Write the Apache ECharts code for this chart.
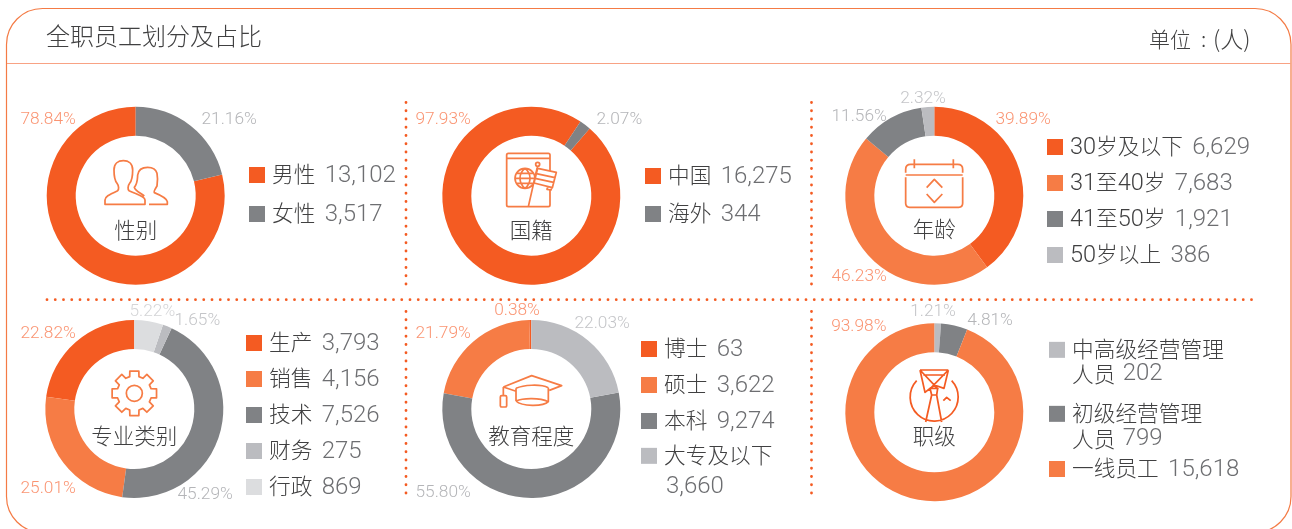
<!DOCTYPE html>
<html>
<head>
<meta charset="utf-8">
<style>
  html, body { margin: 0; padding: 0; background: #fff; }
  #main { width: 1292px; height: 529px; }
</style>
<script src="https://cdn.jsdelivr.net/npm/echarts@6/dist/echarts.min.js"></script>
</head>
<body>
<div id="main"></div>
<script>
const genderNames = ["男性", "女性"];
const genderValues = [13102, 3517];
const genderPercents = ["78.84%", "21.16%"];

const nationNames = ["中国", "海外"];
const nationValues = [16275, 344];
const nationPercents = ["97.93%", "2.07%"];

const ageNames = ["30岁及以下", "31至40岁", "41至50岁", "50岁以上"];
const ageValues = [6629, 7683, 1921, 386];
const agePercents = ["39.89%", "46.23%", "11.56%", "2.32%"];

const jobNames = ["生产", "销售", "技术", "财务", "行政"];
const jobValues = [3793, 4156, 7526, 275, 869];
const jobPercents = ["22.82%", "25.01%", "45.29%", "1.65%", "5.22%"];

const eduNames = ["博士", "硕士", "本科", "大专及以下"];
const eduValues = [63, 3622, 9274, 3660];
const eduPercents = ["0.38%", "21.79%", "55.80%", "22.03%"];

const rankNames = ["中高级经营管理人员", "初级经营管理人员", "一线员工"];
const rankValues = [202, 799, 15618];
const rankPercents = ["1.21%", "4.81%", "93.98%"];

const DEEP = "#F45B22";
const ORANGE = "#F67C45";
const GRAY = "#808285";
const SILVER = "#BBBCC0";
const PALE = "#DCDDDF";
const FRAME = "#F47B45";
const INK = "#404041";
const VALUE = "#6D6E71";

const CJK = '"Noto Sans CJK SC"';
const NUM = 'Roboto, "Noto Sans CJK SC"';

// percent label colours follow the slice colour
const pctColor = {
  [DEEP]: "#FA9472",
  [ORANGE]: "#FA9472",
  [GRAY]: "#B4B5B8",
  [SILVER]: "#C4C5C8",
  [PALE]: "#D4D5D7",
};

const fmt = (v) => v.toLocaleString("en-US");

const panels = [
  {
    names: genderNames, values: genderValues, percents: genderPercents,
    center: [135.7, 195.7], clockwise: false, startAngle: 90,
    colors: [DEEP, GRAY], title: "性别", titleY: 229.5,
    pctPos: [[20.5, 120], [201.5, 120]],
    legendX: 249, legendY: [166, 205],
  },
  {
    names: nationNames, values: nationValues, percents: nationPercents,
    center: [531.3, 195.7], clockwise: true, startAngle: 49,
    colors: [DEEP, GRAY], title: "国籍", titleY: 229.5,
    pctPos: [[415.5, 120], [596.5, 120]],
    legendX: 645, legendY: [167, 205],
  },
  {
    names: ageNames, values: ageValues, percents: agePercents,
    center: [934.3, 195.7], clockwise: true, startAngle: 90,
    colors: [DEEP, ORANGE, GRAY, SILVER], title: "年龄", titleY: 228.5,
    pctPos: [[995.5, 119.5], [831.5, 276.7], [831.5, 116.7], [900.2, 98.7]],
    legendX: 1047, legendY: [138, 174, 210, 246],
  },
  {
    names: jobNames, values: jobValues, percents: jobPercents,
    center: [134.3, 409], clockwise: false, startAngle: 90,
    colors: [DEEP, ORANGE, GRAY, SILVER, PALE], title: "专业类别", titleY: 435.5,
    pctPos: [[20.5, 333.7], [20.5, 488.3], [177.5, 495], [174.5, 320.3], [129.5, 312]],
    legendX: 246, legendY: [334, 370, 406, 442, 478],
  },
  {
    names: eduNames, values: eduValues, percents: eduPercents,
    center: [531.3, 409], clockwise: false, startAngle: 90,
    colors: [DEEP, ORANGE, GRAY, SILVER], title: "教育程度", titleY: 435.5,
    pctPos: [[494.2, 311], [415.5, 333.7], [415.5, 492.7], [574.5, 323.7]],
    legendX: 641, legendY: [340, 376, 412, 448],
  },
  {
    names: rankNames, values: rankValues, percents: rankPercents,
    center: [934.3, 412.3], clockwise: true, startAngle: 90,
    colors: [SILVER, GRAY, ORANGE], title: "职级", titleY: 435.5,
    pctPos: [[910.2, 311.7], [967.2, 320.3], [831.2, 326.7]],
    legendX: 1049, legendY: [342, 406, 460],
  },
];

const series = panels.map((p) => ({
  type: "pie",
  radius: [60, 89],
  center: p.center,
  clockwise: p.clockwise,
  startAngle: p.startAngle,
  avoidLabelOverlap: false,
  silent: true,
  data: p.names.map((n, i) => ({
    name: n,
    value: p.values[i],
    itemStyle: { color: p.colors[i] },
    label: { color: pctColor[p.colors[i]] },
  })),
  label: {
    show: true,
    formatter: (c) => p.percents[c.dataIndex],
    fontFamily: NUM,
    fontWeight: 300,
    fontSize: 17.3,
  },
  labelLine: { show: false },
  labelLayout: (c) => ({
    x: p.pctPos[c.dataIndex][0],
    y: p.pctPos[c.dataIndex][1],
    align: "left",
    verticalAlign: "middle",
  }),
}));

// one legend per row so that rows can sit where the reference has them
const rich = {
  n: { fontFamily: CJK, fontWeight: 300, fontSize: 21.7, color: INK, lineHeight: 16, padding: [0, 0, 2, 0] },
  d: { fontFamily: NUM, fontWeight: 300, fontSize: 23.5, color: INK, lineHeight: 16, padding: [2, 0, 0, 0] },
  v: { fontFamily: NUM, fontWeight: 300, fontSize: 24, color: VALUE, lineHeight: 16, padding: [2, 0, 0, 6] },
};

// rows whose text wraps: only the first line goes in the legend
const firstLine = { "中高级经营管理人员": "中高级经营管理", "初级经营管理人员": "初级经营管理", "大专及以下": "大专及以下" };

// digits inside a name use the number font
const nameTokens = (s) =>
  s.split(/(\d+)/).filter(Boolean).map((t) => (/\d/.test(t) ? `{d|${t}}` : `{n|${t}}`)).join("");

const legends = [];
panels.forEach((p) => {
  p.names.forEach((n, i) => {
    legends.push({
      data: [n],
      left: p.legendX,
      top: p.legendY[i] - 4,
      padding: 0,
      icon: "rect",
      itemWidth: 16,
      itemHeight: 16,
      selectedMode: false,
      formatter: () => (firstLine[n] ? nameTokens(firstLine[n]) : nameTokens(n) + ` {v|${fmt(p.values[i])}}`),
      textStyle: { rich, padding: [0, 0, 0, 2] },
    });
  });
});

// line icons, written in 3x pixels of their box and scaled down
function gearPath(cx, cy) {
  const pts = [];
  for (let i = 0; i < 8; i++) {
    const a = (i * Math.PI) / 4 - Math.PI / 2;
    [[52, -0.27], [68, -0.2], [68, 0.2], [52, 0.27]].forEach(([r, d]) => {
      pts.push([cx + r * Math.cos(a + d), cy + r * Math.sin(a + d)]);
    });
  }
  return "M" + pts.map((q) => q[0].toFixed(1) + " " + q[1].toFixed(1)).join(" L") + " Z";
}

const icons = [
  {
    x: 95, y: 150,
    d: "M30 163 V150 C30 140 40 135 68 122 C72 118 72 108 66 100 C58 90 57 75 57 60 C57 40 70 32 85 32 C100 32 113 40 113 60 C113 75 112 90 104 100 C98 108 98 118 102 122 C130 135 150 140 150 150 V163 Z " +
      "M162 163 H217 V155 C215 145 195 135 178 128 C175 125 180 118 186 108 C188 95 188 80 186 70 C183 58 172 52 158 52 C142 52 130 60 128 75 C127 90 128 100 118 112 C120 122 135 128 148 138",
  },
  {
    x: 495, y: 145,
    d: "M40 25 H160 Q165 25 165 30 V180 Q165 185 160 185 H40 Q35 185 35 180 V30 Q35 25 40 25 Z M35 40 H165 " +
      "M120 100 A30 30 0 1 0 90 130 A30 30 0 0 0 120 100 M90 70 C70 85 70 115 90 130 M90 70 C110 85 110 115 90 130 M60 100 H120 M65 85 H115 M65 115 H115 " +
      "M128 62 L100 185 M134 58 A6 6 0 1 0 122 58 A6 6 0 1 0 134 58",
  },
  {
    x: 495, y: 145, fill: "#fff",
    d: "M128 70 L184 82 L172 128 L117 114 Z M124 86 L180 98 M120 100 L176 112 M158 125 L156 133 L168 135 L170 128",
  },
  {
    x: 895, y: 150,
    d: "M32 68 V58 Q32 43 47 43 H188 Q203 43 203 58 V68 M32 75 H203 M32 82 V160 Q32 172 44 172 H191 Q203 172 203 160 V82 M58 28 V55 M175 28 V55 M95 113 L118 88 L142 113 M95 132 L118 157 L142 132",
  },
  {
    x: 95, y: 360,
    d: gearPath(118, 100) + " M142 100 A24 24 0 1 0 94 100 A24 24 0 1 0 142 100",
  },
  {
    x: 490, y: 365,
    d: "M40 66 L125 32 L215 62 L178 76 M40 66 L76 78 M78 70 C100 60 150 56 175 68 M78 70 L78 108 M175 68 L175 110 " +
      "M78 108 C95 125 160 125 175 110 C150 98 100 98 78 108 M40 66 V92 M35 92 H46 Q50 92 50 96 V122 Q50 126 46 126 H35 Q31 126 31 122 V96 Q31 92 35 92 Z",
  },
  {
    x: 895, y: 360, stroke: DEEP,
    d: "M75 30 H160 M85 45 H150 M75 30 L130 88 M160 30 L100 92 M75 30 L90 97 L118 75 L147 85 L160 30 M105 85 L128 85 L125 105 L110 105 Z M110 105 L92 186 M125 105 L140 186 " +
      "M65 62 A72 72 0 1 0 170 62 M145 122 L155 112 L167 122",
  },
];

icons.forEach((ic, i) => {
  echarts.graphic.registerShape("icon" + i, echarts.graphic.extendPath(ic.d, {}));
});

const dotStyle = { stroke: DEEP, lineWidth: 2.8, lineCap: "round", lineDash: [0, 8.25] };
const dotted = (x1, y1, x2, y2) => ({ type: "line", silent: true, shape: { x1, y1, x2, y2 }, style: dotStyle });

const textEl = (x, y, text, font, size, color, align) => ({
  type: "text",
  silent: true,
  x,
  y,
  style: { text, fontFamily: font, fontWeight: 300, fontSize: size, fill: color, align: align || "left", verticalAlign: "middle" },
});

const wrapRich = {
  n: { fontFamily: CJK, fontWeight: 300, fontSize: 21.7, fill: INK },
  v: { fontFamily: NUM, fontWeight: 300, fontSize: 24, fill: VALUE, padding: [0, 0, 0, 4] },
};

const graphic = [
  { type: "rect", silent: true, shape: { x: 6.5, y: 8.5, width: 1284.5, height: 524, r: 36 }, style: { fill: "none", stroke: FRAME, lineWidth: 1.2 } },
  { type: "line", silent: true, shape: { x1: 7, y1: 63.5, x2: 1291, y2: 63.5 }, style: { stroke: "#F8A284", lineWidth: 1 } },
  dotted(47, 299.7, 1258, 299.7),
  dotted(406, 102.5, 406, 289),
  dotted(406, 311.5, 406, 498),
  dotted(811.5, 102.5, 811.5, 289),
  dotted(811.5, 311.5, 811.5, 498),
  textEl(46, 35.5, "全职员工划分及占比", CJK, 24, INK),
  textEl(1149, 39, "单位", CJK, 21, INK),
  textEl(1201, 39, ":", CJK, 21, INK),
  textEl(1213, 39, "(人)", CJK, 23, INK),
  // wrapped legend lines
  { type: "text", silent: true, x: 1072, y: 374, style: { text: "{n|人员} {v|202}", rich: wrapRich, verticalAlign: "middle" } },
  { type: "text", silent: true, x: 1072, y: 438.7, style: { text: "{n|人员} {v|799}", rich: wrapRich, verticalAlign: "middle" } },
  textEl(666, 487, "3,660", NUM, 24, VALUE),
];

panels.forEach((p) => {
  graphic.push(textEl(p.center[0], p.titleY, p.title, CJK, 21.5, INK, "center"));
});

icons.forEach((ic, i) => {
  graphic.push({
    type: "icon" + i,
    silent: true,
    x: ic.x,
    y: ic.y,
    scaleX: 1 / 3,
    scaleY: 1 / 3,
    style: { fill: ic.fill || "none", stroke: ic.stroke || ORANGE, lineWidth: 5.2, lineJoin: "round" },
  });
});

const chart = echarts.init(document.getElementById("main"));
chart.setOption({
  animation: false,
  backgroundColor: "#fff",
  legend: legends,
  series,
  graphic: { elements: graphic },
});
</script>
</body>
</html>
